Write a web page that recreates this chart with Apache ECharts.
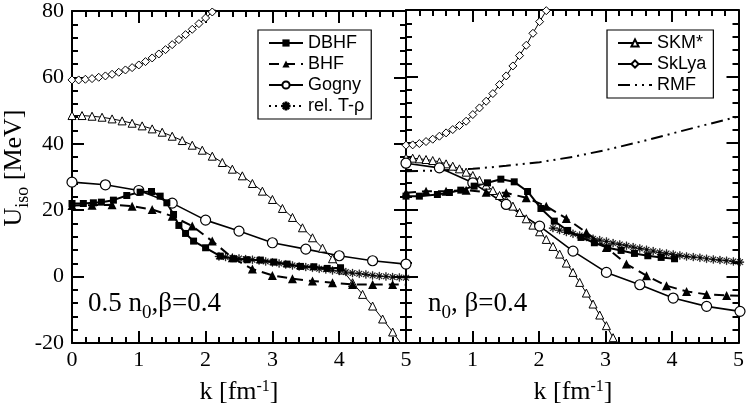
<!DOCTYPE html>
<html><head><meta charset="utf-8">
<script src="https://cdn.jsdelivr.net/npm/echarts@6/dist/echarts.min.js"></script>
<style>html,body{margin:0;padding:0;background:#fff}#wrap{position:relative;width:747px;height:407px}#ax,#c{position:absolute;left:0;top:0;width:747px;height:407px}#c{pointer-events:none}</style>
</head><body><div id="wrap"><div id="ax"></div><div id="c"></div></div><script>
// ---------- tick labels ----------
const xTicks = [0, 1, 2, 3, 4, 5];
const yTicks = [-20, 0, 20, 40, 60, 80];

// ---------- left panel: 0.5 n0, beta=0.4 ----------
const kSkLyaL = [0,0.1,0.2,0.3,0.4,0.5,0.6,0.7,0.8,0.9,1.0,1.1,1.2,1.3,1.4,1.5,1.6,1.7,1.8,1.9,2.0,2.1,2.2];
const uSkLyaL = [59.0,59.0,59.2,59.4,59.8,60.2,60.7,61.3,62.0,62.7,63.5,64.5,65.6,66.8,68.1,69.6,71.1,72.6,74.2,75.9,77.6,79.4,81.3];
const kSkmL = [0,0.15,0.3,0.45,0.6,0.75,0.9,1.05,1.2,1.35,1.5,1.65,1.8,1.95,2.1,2.25,2.4,2.55,2.7,2.85,3.0,3.15,3.3,3.45,3.6,3.75,3.9,4.05,4.2,4.35,4.5,4.65,4.8,4.95];
const uSkmL = [48.3,48.3,48.1,47.8,47.3,46.7,46.0,45.2,44.3,43.3,42.1,40.8,39.4,37.9,36.1,34.2,32.2,30.2,27.9,25.6,23.1,20.4,17.7,14.6,11.6,8.5,5.3,1.9,-1.9,-5.4,-8.9,-12.8,-16.7,-20.8];
const kGognyL = [0,0.5,1.0,1.5,2.0,2.5,3.0,3.5,4.0,4.5,5.0];
const uGognyL = [28.3,27.5,25.8,22.0,16.9,13.6,10.1,8.2,6.2,4.7,3.7];
const kDbhfL = [0,0.17,0.32,0.44,0.62,0.82,1.02,1.19,1.32,1.42,1.52,1.6,1.7,1.82,2.0,2.22,2.42,2.62,2.82,3.02,3.22,3.42,3.62,3.82,4.02];
const uDbhfL = [21.9,21.9,22.1,22.3,22.9,24.3,25.3,25.5,24.1,22.1,18.6,15.3,12.9,10.6,8.6,6.1,5.3,5.0,4.9,4.3,3.7,3.0,2.9,2.4,2.6];
const kBhfL = [0,0.3,0.6,0.9,1.2,1.5,1.8,2.1,2.4,2.7,3.0,3.3,3.6,3.9,4.2,4.5,4.8,5.0];
const uBhfL = [21.3,21.4,21.5,21.1,20.1,18.1,15.1,10.6,5.6,2.2,0.3,-0.7,-1.4,-1.9,-2.4,-2.4,-2.4,-2.5];
const kRelL = [2.2,2.3,2.4,2.5,2.6,2.7,2.8,2.9,3.0,3.1,3.2,3.3,3.4,3.5,3.6,3.7,3.8,3.9,4.0,4.1,4.2,4.3,4.4,4.5,4.6,4.7,4.8,4.9,5.0];
const uRelL = [6.0,5.8,5.6,5.4,5.2,5.0,4.8,4.5,4.2,3.9,3.6,3.3,3.0,2.8,2.6,2.3,2.1,1.8,1.6,1.3,1.0,0.8,0.6,0.3,0.1,0.0,-0.2,-0.3,-0.4];

// ---------- right panel: n0, beta=0.4 ----------
const kSkLyaR = [0,0.1,0.2,0.3,0.4,0.5,0.6,0.7,0.8,0.9,1.0,1.1,1.2,1.3,1.4,1.5,1.6,1.7,1.8,1.9,2.0,2.1,2.2];
const uSkLyaR = [39.4,39.5,39.9,40.5,41.2,42.1,43.1,44.1,45.3,46.6,48.6,50.6,52.6,54.9,57.6,60.2,63.2,66.3,69.4,73.0,76.5,79.8,83.5];
const kSkmR = [0,0.1,0.2,0.3,0.4,0.5,0.6,0.7,0.8,0.9,1.0,1.1,1.2,1.3,1.4,1.5,1.6,1.7,1.8,1.9,2.0,2.1,2.2,2.3,2.4,2.5,2.6,2.7,2.8,2.9,3.0,3.1,3.2];
const uSkmR = [35.6,35.5,35.3,35.1,34.8,34.4,33.8,33.1,32.3,31.3,30.3,28.9,27.4,25.8,24.3,22.8,21.1,19.2,17.3,15.4,13.4,11.1,9.0,6.7,4.0,1.2,-1.8,-5.0,-8.3,-11.6,-14.8,-18.4,-22.0];
const kGognyR = [0,0.5,1.0,1.5,2.0,2.5,3.0,3.5,4.0,4.5,5.0];
const uGognyR = [34.0,32.6,28.1,21.6,15.1,7.6,1.2,-2.5,-6.5,-9.0,-10.5];
const kDbhfR = [0,0.2,0.47,0.65,0.82,1.02,1.22,1.42,1.62,1.82,2.02,2.22,2.42,2.62,2.82,3.02,3.22,3.42,3.62,3.82,4.02];
const uDbhfR = [24.1,24.1,24.6,25.2,25.9,27.1,28.1,29.2,28.4,25.5,20.4,16.6,13.8,11.7,10.1,8.6,7.8,6.9,6.2,5.7,5.3];
const kBhfR = [0,0.3,0.6,0.9,1.2,1.5,1.8,2.1,2.4,2.7,3.0,3.3,3.6,3.9,4.2,4.5,4.8,5.0];
const uBhfR = [25.1,25.6,25.6,25.9,25.3,25.1,23.6,21.1,17.4,13.2,8.7,3.7,0.2,-2.8,-4.5,-5.4,-5.7,-5.8];
const kRelR = [2.2,2.3,2.4,2.5,2.6,2.7,2.8,2.9,3.0,3.1,3.2,3.3,3.4,3.5,3.6,3.7,3.8,3.9,4.0,4.1,4.2,4.3,4.4,4.5,4.6,4.7,4.8,4.9,5.0];
const uRelR = [14.5,13.9,13.3,12.8,12.3,11.8,11.3,10.9,10.5,10.0,9.6,9.2,8.8,8.4,8.0,7.6,7.2,6.9,6.6,6.3,6.0,5.8,5.6,5.3,5.1,4.9,4.7,4.5,4.3];
const kRmfR = [0,0.5,1.0,1.5,2.0,2.5,3.0,3.5,4.0,4.5,5.0];
const uRmfR = [31.6,31.8,32.3,33.2,34.3,35.9,38.0,40.4,43.0,45.6,48.1];

// legend entries
const legendLeft = ['DBHF', 'BHF', 'Gogny', 'rel. T-ρ'];
const legendRight = ['SKM*', 'SkLya', 'RMF'];

// ---------- build ----------
function zip(ks, us, lastNoSymbol) {
  return ks.map((k, i) => {
    if (lastNoSymbol && i === ks.length - 1) return { value: [k, us[i]], symbol: 'none' };
    return [k, us[i]];
  });
}
const SERIF = 'Liberation Serif';
const SANS = 'Liberation Sans';
const ASTER = 'path://M4.55,0H5.45V10H4.55Z M0,4.55H10V5.45H0Z M1.3,1.95L1.95,1.3L8.7,8.05L8.05,8.7Z M8.7,1.95L8.05,1.3L1.3,8.05L1.95,8.7Z';

function styleOf(name) {
  switch (name) {
    case 'DBHF': return { symbol: 'rect', symbolSize: 7, itemStyle: { color: '#000' }, lineStyle: { color: '#000', width: 2 } };
    case 'BHF': return { symbol: 'triangle', symbolSize: 9, itemStyle: { color: '#000' }, lineStyle: { color: '#000', width: 2, type: [10, 6] } };
    case 'Gogny': return { symbol: 'circle', symbolSize: 10, itemStyle: { color: '#fff', borderColor: '#000', borderWidth: 1.2 }, lineStyle: { color: '#000', width: 1.6 } };
    case 'rel. T-ρ': return { symbol: ASTER, symbolSize: 8, itemStyle: { color: '#000', borderColor: '#000', borderWidth: 0.4 }, lineStyle: { color: '#000', width: 1.5, type: [2, 4] } };
    case 'SKM*': return { symbol: 'triangle', symbolSize: 8, itemStyle: { color: '#fff', borderColor: '#000', borderWidth: 1 }, lineStyle: { color: '#000', width: 1 } };
    case 'SkLya': return { symbol: 'diamond', symbolSize: 8, itemStyle: { color: '#fff', borderColor: '#000', borderWidth: 1 }, lineStyle: { color: '#000', width: 1 } };
    default: return { symbol: 'none', itemStyle: { color: '#000' }, lineStyle: { color: '#000', width: 2, type: [12, 5, 2, 5, 2, 5] } };
  }
}
function mk(name, data, xi, yi) {
  return Object.assign({ type: 'line', name: name, data: data, xAxisIndex: xi, yAxisIndex: yi }, styleOf(name));
}

const grids = [
  { left: 72, top: 10, width: 334, height: 333 },
  { left: 406, top: 10, width: 334, height: 333 }
];
const labelStyle = { fontFamily: SERIF, fontSize: 22, color: '#000' };

// ----- layer 1: frames, ticks and tick labels -----
function frameAx(kind, grid, pos, label) {
  const isX = kind === 'x';
  return {
    type: 'value', gridIndex: grid, position: pos,
    min: isX ? xTicks[0] : yTicks[0], max: isX ? xTicks[xTicks.length - 1] : yTicks[yTicks.length - 1],
    interval: isX ? 1 : 20,
    axisLine: { show: true, onZero: false, lineStyle: { color: '#000', width: 2 } },
    axisTick: { show: true, inside: true, length: 12, lineStyle: { color: '#000', width: 2 } },
    minorTick: { show: true, splitNumber: 5, length: 6, lineStyle: { color: '#000', width: 2 } },
    splitLine: { show: false },
    axisLabel: label
  };
}
const axesOption = {
  backgroundColor: '#fff',
  animation: false,
  grid: grids,
  xAxis: [
    frameAx('x', 0, 'bottom', Object.assign({ margin: 6 }, labelStyle)),
    frameAx('x', 0, 'top', { show: false }),
    frameAx('x', 1, 'bottom', Object.assign({ margin: 6, showMinLabel: false }, labelStyle)),
    frameAx('x', 1, 'top', { show: false })
  ],
  yAxis: [
    frameAx('y', 0, 'left', Object.assign({ margin: 8 }, labelStyle)),
    frameAx('y', 0, 'right', { show: false }),
    frameAx('y', 1, 'left', { show: false }),
    frameAx('y', 1, 'right', { show: false })
  ],
  series: [
    { type: 'line', data: [], xAxisIndex: 0, yAxisIndex: 0 },
    { type: 'line', data: [], xAxisIndex: 2, yAxisIndex: 2 }
  ]
};
echarts.init(document.getElementById('ax'), null, { renderer: 'canvas' }).setOption(axesOption);

// ----- layer 2: curves, legends and texts (same grids, hidden axes) -----
function hiddenAx(kind, grid) {
  const isX = kind === 'x';
  return {
    type: 'value', gridIndex: grid, show: false,
    min: isX ? xTicks[0] : yTicks[0], max: isX ? xTicks[xTicks.length - 1] : yTicks[yTicks.length - 1],
    interval: isX ? 1 : 20
  };
}
function legendCommon() {
  return {
    orient: 'vertical', selectedMode: false, backgroundColor: '#fff', borderColor: '#000', borderWidth: 1.2,
    padding: [4, 7, 4, 10], itemGap: 3, itemWidth: 34, itemHeight: 9,
    textStyle: { fontFamily: SANS, fontSize: 18, color: '#000' }
  };
}
const subRich = {
  a: { fontFamily: SERIF, fontSize: 27, lineHeight: 27, verticalAlign: 'top', fill: '#000' },
  b: { fontFamily: SERIF, fontSize: 19, lineHeight: 19, padding: [14, 0, 0, 0], verticalAlign: 'top', fill: '#000' }
};
const subRichY = {
  a: { fontFamily: SERIF, fontSize: 26, lineHeight: 26, verticalAlign: 'top', fill: '#000' },
  b: { fontFamily: SERIF, fontSize: 18, lineHeight: 18, padding: [13, 0, 0, 0], verticalAlign: 'top', fill: '#000' }
};
const supRich = {
  a: { fontFamily: SERIF, fontSize: 26, lineHeight: 26, verticalAlign: 'top', fill: '#000' },
  s: { fontFamily: SERIF, fontSize: 16, lineHeight: 16, verticalAlign: 'top', fill: '#000' }
};
const option = {
  backgroundColor: 'transparent',
  animation: false,
  grid: grids,
  xAxis: [hiddenAx('x', 0), hiddenAx('x', 0), hiddenAx('x', 1), hiddenAx('x', 1)],
  yAxis: [hiddenAx('y', 0), hiddenAx('y', 0), hiddenAx('y', 1), hiddenAx('y', 1)],
  legend: [
    Object.assign({ left: 258, top: 30, data: legendLeft }, legendCommon()),
    Object.assign({ left: 607, top: 30, data: legendRight.map(n => n === 'RMF' ? { name: n, itemStyle: { color: 'rgba(0,0,0,0)', borderColor: 'rgba(0,0,0,0)', borderWidth: 0 } } : n) }, legendCommon())
  ],
  series: [
    mk('SkLya', zip(kSkLyaL, uSkLyaL), 0, 0),
    mk('SKM*', zip(kSkmL, uSkmL), 0, 0),
    mk('Gogny', zip(kGognyL, uGognyL), 0, 0),
    mk('rel. T-ρ', zip(kRelL, uRelL), 0, 0),
    mk('BHF', zip(kBhfL, uBhfL, true), 0, 0),
    mk('DBHF', zip(kDbhfL, uDbhfL), 0, 0),
    mk('SkLya', zip(kSkLyaR, uSkLyaR), 2, 2),
    mk('SKM*', zip(kSkmR, uSkmR), 2, 2),
    mk('RMF', zip(kRmfR, uRmfR), 2, 2),
    mk('Gogny', zip(kGognyR, uGognyR), 2, 2),
    mk('rel. T-ρ', zip(kRelR, uRelR), 2, 2),
    mk('BHF', zip(kBhfR, uBhfR, true), 2, 2),
    mk('DBHF', zip(kDbhfR, uDbhfR), 2, 2)
  ],
  graphic: [
    { type: 'text', x: 88, y: 290, z: 10, style: { text: '{a|0.5 n}{b|0}{a|,β=0.4}', rich: subRich, align: 'left', verticalAlign: 'top' } },
    { type: 'text', x: 428, y: 290, z: 10, style: { text: '{a|n}{b|0}{a|, β=0.4}', rich: subRich, align: 'left', verticalAlign: 'top' } },
    { type: 'text', x: 239, y: 379, z: 10, style: { text: '{a|k [fm}{s|-1}{a|]}', rich: supRich, align: 'center', verticalAlign: 'top' } },
    { type: 'text', x: 573, y: 379, z: 10, style: { text: '{a|k [fm}{s|-1}{a|]}', rich: supRich, align: 'center', verticalAlign: 'top' } },
    { type: 'text', x: 14, y: 168, rotation: Math.PI / 2, z: 10, style: { text: '{a|U}{b|iso}{a| [MeV]}', rich: subRichY, align: 'center', verticalAlign: 'middle' } }
  ]
};
echarts.init(document.getElementById('c'), null, { renderer: 'canvas' }).setOption(option);
</script></body></html>
